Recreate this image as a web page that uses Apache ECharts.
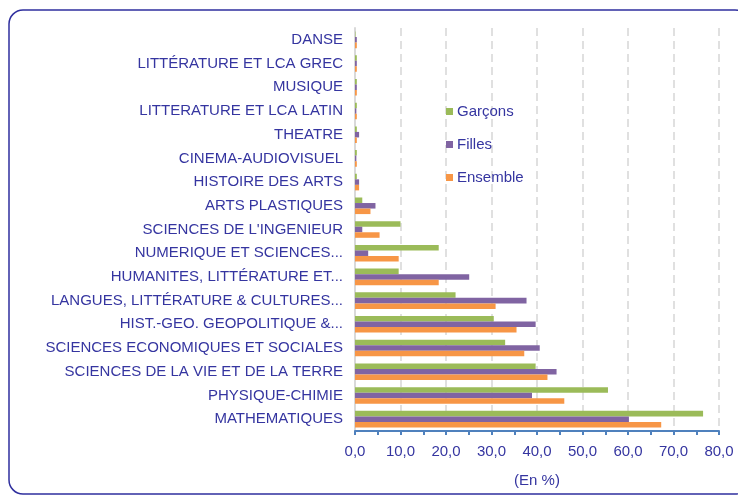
<!DOCTYPE html>
<html>
<head>
<meta charset="utf-8">
<script src="https://cdn.jsdelivr.net/npm/echarts@6/dist/echarts.min.js"></script>
<style>
  html, body { margin: 0; padding: 0; background: #fff; }
  #chart { width: 738px; height: 495px; }
</style>
</head>
<body>
<div id="chart"></div>
<script>
// spécialités, du bas vers le haut
var categories = [
  'MATHEMATIQUES', 'PHYSIQUE-CHIMIE', 'SCIENCES DE LA VIE ET DE LA TERRE',
  'SCIENCES ECONOMIQUES ET SOCIALES', 'HIST.-GEO. GEOPOLITIQUE &...',
  'LANGUES, LITTÉRATURE & CULTURES...', 'HUMANITES, LITTÉRATURE ET...',
  'NUMERIQUE ET SCIENCES...', "SCIENCES DE L'INGENIEUR", 'ARTS PLASTIQUES',
  'HISTOIRE DES ARTS', 'CINEMA-AUDIOVISUEL', 'THEATRE',
  'LITTERATURE ET LCA LATIN', 'MUSIQUE', 'LITTÉRATURE ET LCA GREC', 'DANSE'
];
var garcons  = [76.5, 55.6, 39.7, 33.0, 30.5, 22.1, 9.6, 18.4, 10.0, 1.6, 0.4, 0.4, 0.4, 0.4, 0.4, 0.4, 0.1];
var filles   = [60.2, 38.9, 44.3, 40.6, 39.7, 37.7, 25.1, 2.9, 1.6, 4.5, 0.9, 0.3, 0.9, 0.3, 0.4, 0.4, 0.4];
var ensemble = [67.3, 46.0, 42.3, 37.2, 35.5, 30.9, 18.4, 9.6, 5.4, 3.4, 0.9, 0.4, 0.4, 0.4, 0.4, 0.4, 0.4];

var txt = '#3535a0';
var chart = echarts.init(document.getElementById('chart'));

function serie(name, data, color) {
  return {
    name: name,
    type: 'bar',
    data: data,
    barGap: '0%',
    barCategoryGap: '30%',
    itemStyle: { color: color },
    emphasis: { disabled: true }
  };
}

var option = {
  animation: false,
  backgroundColor: '#ffffff',
  textStyle: { fontFamily: 'Liberation Sans, Arial, sans-serif' },
  graphic: [{
    type: 'rect',
    shape: { x: 9, y: 10, width: 740, height: 484, r: 14 },
    style: { fill: 'none', stroke: '#2f2f9e', lineWidth: 1.5 },
    silent: true
  }],
  legend: {
    orient: 'vertical',
    left: 441,
    top: 99,
    itemWidth: 7,
    itemHeight: 7,
    itemGap: 18,
    icon: 'rect',
    data: ['Garçons', 'Filles', 'Ensemble'],
    textStyle: { color: txt, fontSize: 15, padding: [0, 0, 0, -1] }
  },
  grid: { left: 355, right: 19, top: 28, bottom: 64 },
  xAxis: {
    type: 'value',
    min: 0,
    max: 80,
    interval: 10,
    name: '(En %)',
    nameLocation: 'middle',
    nameGap: 42,
    nameTextStyle: { color: txt, fontSize: 15 },
    axisLine: { show: true, lineStyle: { color: '#4f81bd', width: 2 } },
    axisTick: { show: true, length: 4, lineStyle: { color: '#4f81bd', width: 2 } },
    minorTick: { show: true, splitNumber: 2, length: 4, lineStyle: { color: '#4f81bd', width: 2 } },
    axisLabel: {
      color: txt,
      fontSize: 15,
      margin: 13,
      formatter: function (v) { return v.toFixed(1).replace('.', ','); }
    },
    splitLine: { show: true, lineStyle: { color: '#e0e0e0', width: 2, type: [8, 5] } }
  },
  yAxis: {
    type: 'category',
    data: categories,
    axisLine: { show: true, lineStyle: { color: '#d9d9d9', width: 2 } },
    axisTick: { show: false },
    axisLabel: { color: txt, fontSize: 15, margin: 12 }
  },
  series: [
    serie('Garçons', garcons, '#9bbb59'),
    serie('Filles', filles, '#8064a2'),
    serie('Ensemble', ensemble, '#f79646')
  ]
};

chart.setOption(option);
</script>
</body>
</html>
